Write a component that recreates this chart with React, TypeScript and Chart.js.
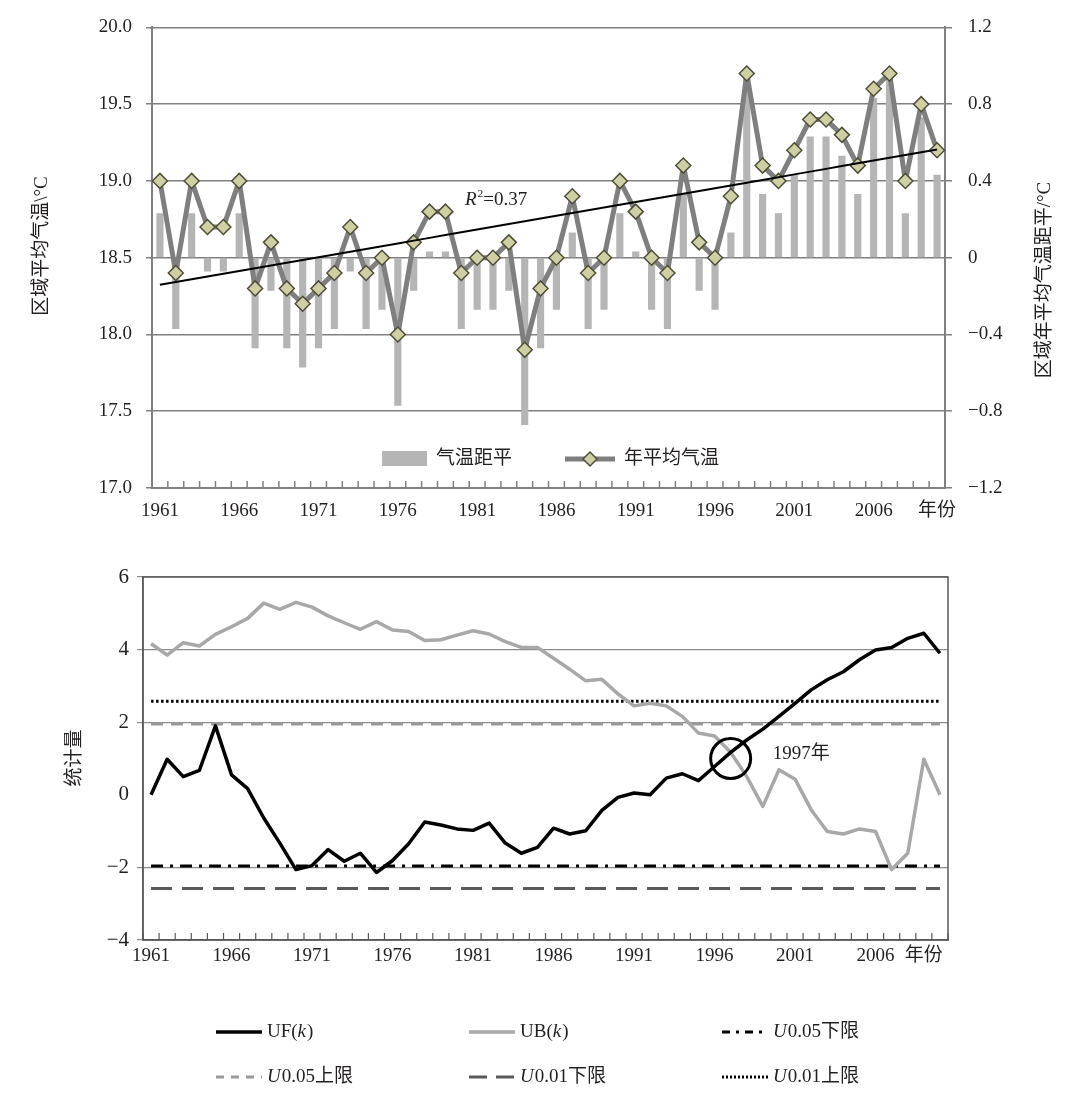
import { useEffect, useRef } from 'react';
import Chart from 'chart.js/auto';

// ---------- data ----------
const YEARS: number[] = [
  1961, 1962, 1963, 1964, 1965, 1966, 1967, 1968, 1969, 1970,
  1971, 1972, 1973, 1974, 1975, 1976, 1977, 1978, 1979, 1980,
  1981, 1982, 1983, 1984, 1985, 1986, 1987, 1988, 1989, 1990,
  1991, 1992, 1993, 1994, 1995, 1996, 1997, 1998, 1999, 2000,
  2001, 2002, 2003, 2004, 2005, 2006, 2007, 2008, 2009, 2010,
];

// 年平均气温 (°C)
const TEMPS: number[] = [
  19.0, 18.4, 19.0, 18.7, 18.7, 19.0, 18.3, 18.6, 18.3, 18.2,
  18.3, 18.4, 18.7, 18.4, 18.5, 18.0, 18.6, 18.8, 18.8, 18.4,
  18.5, 18.5, 18.6, 17.9, 18.3, 18.5, 18.9, 18.4, 18.5, 19.0,
  18.8, 18.5, 18.4, 19.1, 18.6, 18.5, 18.9, 19.7, 19.1, 19.0,
  19.2, 19.4, 19.4, 19.3, 19.1, 19.6, 19.7, 19.0, 19.5, 19.2,
];

// 气温距平 (°C)
const ANOMALY: number[] = [
  0.23, -0.37, 0.23, -0.07, -0.07, 0.23, -0.47, -0.17, -0.47, -0.57,
  -0.47, -0.37, -0.07, -0.37, -0.27, -0.77, -0.17, 0.03, 0.03, -0.37,
  -0.27, -0.27, -0.17, -0.87, -0.47, -0.27, 0.13, -0.37, -0.27, 0.23,
  0.03, -0.27, -0.37, 0.33, -0.17, -0.27, 0.13, 0.93, 0.33, 0.23,
  0.43, 0.63, 0.63, 0.53, 0.33, 0.83, 0.93, 0.23, 0.73, 0.43,
];

// Mann-Kendall statistics
const UF: number[] = [
  0, 0.98, 0.5, 0.67, 1.9, 0.55, 0.17, -0.64, -1.33, -2.06,
  -1.95, -1.51, -1.83, -1.61, -2.14, -1.81, -1.35, -0.75, -0.83, -0.94,
  -0.98, -0.78, -1.33, -1.61, -1.45, -0.92, -1.08, -0.99, -0.43, -0.07,
  0.05, 0, 0.46, 0.58, 0.39, 0.78, 1.17, 1.51, 1.81, 2.16,
  2.52, 2.89, 3.17, 3.39, 3.72, 3.99, 4.06, 4.31, 4.45, 3.9,
];

const UB: number[] = [
  4.16, 3.85, 4.19, 4.1, 4.42, 4.63, 4.86, 5.28, 5.11, 5.3,
  5.17, 4.93, 4.74, 4.56, 4.77, 4.54, 4.5, 4.25, 4.27, 4.4,
  4.52, 4.43, 4.22, 4.06, 4.06, 3.76, 3.46, 3.14, 3.18, 2.78,
  2.45, 2.52, 2.45, 2.16, 1.7, 1.62, 1.17, 0.5, -0.32, 0.69,
  0.43, -0.41, -1.01, -1.08, -0.94, -1.01, -2.06, -1.61, 0.98, 0,
];

const U005_UPPER = 1.96;
const U005_LOWER = -1.96;
const U001_UPPER = 2.58;
const U001_LOWER = -2.58;

const CROSS_YEAR = 1997;
const CROSS_VALUE = 1.0;
const R2_TEXT = '0.37';

const TOP_LEFT_TICKS = [17.0, 17.5, 18.0, 18.5, 19.0, 19.5, 20.0];
const TOP_RIGHT_TICKS = [-1.2, -0.8, -0.4, 0, 0.4, 0.8, 1.2];
const BOTTOM_TICKS = [-4, -2, 0, 2, 4, 6];

// ---------- styles ----------
const SERIF = '"Liberation Serif", "Noto Sans CJK SC", serif';
const TEXT = '#231f20';
const GRID = '#808080';

const fmtNum = (v: number): string => {
  if (v === 0) return '0';
  return (v < 0 ? '\u2212' : '') + Math.abs(v).toString();
};

// least-squares trend of the yearly temperature
const linearFit = (vals: number[]): number[] => {
  const n = vals.length;
  const mx = (n - 1) / 2;
  const my = vals.reduce((a, b) => a + b, 0) / n;
  let sxy = 0;
  let sxx = 0;
  vals.forEach((v, i) => {
    sxy += (i - mx) * (v - my);
    sxx += (i - mx) * (i - mx);
  });
  const b = sxy / sxx;
  return vals.map((_, i) => my + b * (i - mx));
};

type Part = { t: string; i?: boolean; sup?: boolean };

function drawRich(ctx: CanvasRenderingContext2D, parts: Part[], x: number, y: number, size: number) {
  let cx = x;
  ctx.textAlign = 'left';
  ctx.textBaseline = 'middle';
  ctx.fillStyle = TEXT;
  for (const p of parts) {
    const s = p.sup ? size * 0.6 : size;
    ctx.font = `${p.i ? 'italic ' : ''}${s}px ${SERIF}`;
    ctx.fillText(p.t, cx, p.sup ? y - size * 0.32 : y);
    cx += ctx.measureText(p.t).width + (p.i ? 1 : 0);
  }
}

function drawVertical(ctx: CanvasRenderingContext2D, text: string, x: number, y: number, size: number) {
  ctx.save();
  ctx.translate(x, y);
  ctx.rotate(-Math.PI / 2);
  ctx.textAlign = 'center';
  ctx.textBaseline = 'middle';
  ctx.fillStyle = TEXT;
  ctx.font = `${size}px ${SERIF}`;
  ctx.fillText(text, 0, 0);
  ctx.restore();
}

function drawInnerTicks(chart: any, color: string, width: number, len: number) {
  const { ctx, chartArea } = chart;
  const xs = chart.scales.x;
  const step = xs.getPixelForValue(1) - xs.getPixelForValue(0);
  ctx.save();
  ctx.strokeStyle = color;
  ctx.lineWidth = width;
  for (let i = 0; i <= YEARS.length; i++) {
    const x = xs.getPixelForValue(0) - step / 2 + i * step;
    ctx.beginPath();
    ctx.moveTo(x, chartArea.bottom);
    ctx.lineTo(x, chartArea.bottom - len);
    ctx.stroke();
  }
  ctx.restore();
}

// ---------- top chart ----------
function TemperatureChart() {
  const canvasRef = useRef<HTMLCanvasElement | null>(null);

  useEffect(() => {
    if (!canvasRef.current) return;
    const trend = linearFit(TEMPS);

    const decor = {
      id: 'topDecor',
      afterDraw(chart: any) {
        const { ctx } = chart;
        drawInnerTicks(chart, GRID, 1.5, 7);
        drawVertical(ctx, '区域平均气温\\°C', 42, 246, 19);
        drawVertical(ctx, '区域年平均气温距平/°C', 1045, 280, 19);
        // R²
        drawRich(ctx, [{ t: 'R', i: true }, { t: '2', sup: true }, { t: '=' + R2_TEXT }], 465, 200, 19);
        // legend
        ctx.save();
        ctx.fillStyle = '#b5b5b5';
        ctx.fillRect(382, 451, 45, 15);
        ctx.fillStyle = TEXT;
        ctx.font = `19px ${SERIF}`;
        ctx.textBaseline = 'middle';
        ctx.fillText('气温距平', 436, 459);
        ctx.strokeStyle = '#7f7f7f';
        ctx.lineWidth = 5;
        ctx.beginPath();
        ctx.moveTo(565, 459);
        ctx.lineTo(615, 459);
        ctx.stroke();
        ctx.beginPath();
        ctx.moveTo(590 - 7, 459);
        ctx.lineTo(590, 452);
        ctx.lineTo(590 + 7, 459);
        ctx.lineTo(590, 466);
        ctx.closePath();
        ctx.fillStyle = '#cfcfa6';
        ctx.fill();
        ctx.strokeStyle = '#4d4d38';
        ctx.lineWidth = 1.5;
        ctx.stroke();
        ctx.fillStyle = TEXT;
        ctx.fillText('年平均气温', 624, 459);
        ctx.restore();
      },
    };

    const chart = new Chart(canvasRef.current, {
      type: 'bar',
      data: {
        labels: YEARS.map(String),
        datasets: [
          {
            type: 'line',
            label: 'trend',
            data: trend,
            yAxisID: 'y',
            borderColor: '#000',
            borderWidth: 2,
            pointRadius: 0,
            order: 0,
          },
          {
            type: 'line',
            label: '年平均气温',
            data: TEMPS,
            yAxisID: 'y',
            borderColor: '#7f7f7f',
            borderWidth: 5,
            borderJoinStyle: 'round',
            pointStyle: 'rectRot',
            pointRadius: 7.5,
            pointBackgroundColor: '#cfcfa6',
            pointBorderColor: '#4d4d38',
            pointBorderWidth: 1.5,
            tension: 0,
            order: 1,
          },
          {
            type: 'bar',
            label: '气温距平',
            data: ANOMALY,
            yAxisID: 'y1',
            backgroundColor: '#b5b5b5',
            borderWidth: 0,
            barThickness: 6.5,
            order: 2,
          },
        ] as any,
      },
      options: {
        responsive: true,
        maintainAspectRatio: false,
        animation: false,
        layout: { padding: { top: 22, left: 0, right: 0, bottom: 0 } },
        plugins: { legend: { display: false }, tooltip: { enabled: false } },
        scales: {
          x: {
            type: 'category',
            offset: true,
            grid: { display: true, drawOnChartArea: false, drawTicks: false, offset: true },
            border: { display: true, color: GRID, width: 2 },
            ticks: {
              autoSkip: false,
              maxRotation: 0,
              padding: 12,
              color: TEXT,
              font: { family: SERIF, size: 19 },
              callback: (_v: any, idx: number) =>
                idx === YEARS.length - 1 ? '年份' : idx % 5 === 0 && idx <= 45 ? String(YEARS[idx]) : '',
            },
            afterFit: (s: any) => {
              s.height = 57;
            },
          },
          y: {
            position: 'left',
            min: 17,
            max: 20,
            afterBuildTicks: (s: any) => {
              s.ticks = TOP_LEFT_TICKS.map((v) => ({ value: v }));
            },
            grid: { color: GRID, lineWidth: 1.5, tickLength: 6 },
            border: { display: true, color: GRID, width: 2 },
            ticks: {
              padding: 14,
              color: TEXT,
              font: { family: SERIF, size: 19 },
              callback: (v: any) => Number(v).toFixed(1),
            },
            afterFit: (s: any) => {
              s.width = 152;
            },
          },
          y1: {
            position: 'right',
            min: -1.2,
            max: 1.2,
            afterBuildTicks: (s: any) => {
              s.ticks = TOP_RIGHT_TICKS.map((v) => ({ value: v }));
            },
            grid: { drawOnChartArea: false, color: GRID, lineWidth: 1.5, tickLength: 7 },
            border: { display: true, color: GRID, width: 2 },
            ticks: {
              padding: 16,
              color: TEXT,
              font: { family: SERIF, size: 19 },
              callback: (v: any) => fmtNum(Number(v)),
            },
            afterFit: (s: any) => {
              s.width = 124;
            },
          },
        },
      } as any,
      plugins: [decor],
    });

    return () => chart.destroy();
  }, []);

  return (
    <div style={{ position: 'absolute', left: 0, top: 0, width: 1069, height: 545 }}>
      <canvas ref={canvasRef} />
    </div>
  );
}

// ---------- bottom chart ----------
type LegendItem = {
  x: number;
  y: number;
  color: string;
  width: number;
  dash: number[];
  parts: Part[];
};

const LEGEND: LegendItem[] = [
  { x: 216, y: 487, color: '#000', width: 3.5, dash: [], parts: [{ t: 'UF(' }, { t: 'k', i: true }, { t: ')' }] },
  { x: 469, y: 487, color: '#a8a8a8', width: 3.5, dash: [], parts: [{ t: 'UB(' }, { t: 'k', i: true }, { t: ')' }] },
  { x: 722, y: 487, color: '#000', width: 3, dash: [8, 6, 3, 6], parts: [{ t: 'U', i: true }, { t: '0.05下限' }] },
  { x: 216, y: 532, color: '#999', width: 3, dash: [8, 7], parts: [{ t: 'U', i: true }, { t: '0.05上限' }] },
  { x: 469, y: 532, color: '#595959', width: 3, dash: [18, 9], parts: [{ t: 'U', i: true }, { t: '0.01下限' }] },
  { x: 722, y: 532, color: '#000', width: 3, dash: [2, 2], parts: [{ t: 'U', i: true }, { t: '0.01上限' }] },
];

function MannKendallChart() {
  const canvasRef = useRef<HTMLCanvasElement | null>(null);

  useEffect(() => {
    if (!canvasRef.current) return;

    const decor = {
      id: 'bottomDecor',
      afterDraw(chart: any) {
        const { ctx, chartArea, scales } = chart;
        drawInnerTicks(chart, '#595959', 1.2, 7);
        // frame
        ctx.save();
        ctx.strokeStyle = '#595959';
        ctx.lineWidth = 1.5;
        ctx.strokeRect(chartArea.left, chartArea.top, chartArea.right - chartArea.left, chartArea.bottom - chartArea.top);
        // crossing circle
        const cx = scales.x.getPixelForValue(YEARS.indexOf(CROSS_YEAR));
        const cy = scales.y.getPixelForValue(CROSS_VALUE);
        ctx.strokeStyle = '#000';
        ctx.lineWidth = 3;
        ctx.beginPath();
        ctx.arc(cx, cy, 20, 0, Math.PI * 2);
        ctx.stroke();
        ctx.restore();
        drawRich(ctx, [{ t: CROSS_YEAR + '年' }], cx + 42, cy - 4, 19);
        drawVertical(ctx, '统计量', 75, 213, 19);
        // legend
        for (const it of LEGEND) {
          ctx.save();
          ctx.strokeStyle = it.color;
          ctx.lineWidth = it.width;
          ctx.setLineDash(it.dash);
          ctx.beginPath();
          ctx.moveTo(it.x, it.y);
          ctx.lineTo(it.x + 46, it.y);
          ctx.stroke();
          ctx.restore();
          drawRich(ctx, it.parts, it.x + 51, it.y, 19);
        }
      },
    };

    const refLine = (label: string, value: number, color: string, dash: number[], width: number, order: number) => ({
      type: 'line',
      label,
      data: YEARS.map(() => value),
      borderColor: color,
      borderDash: dash,
      borderWidth: width,
      pointRadius: 0,
      order,
    });

    const chart = new Chart(canvasRef.current, {
      type: 'line',
      data: {
        labels: YEARS.map(String),
        datasets: [
          { label: 'UF(k)', data: UF, borderColor: '#000', borderWidth: 3.5, borderJoinStyle: 'round', pointRadius: 0, tension: 0, order: 0 },
          { label: 'UB(k)', data: UB, borderColor: '#a8a8a8', borderWidth: 3.5, borderJoinStyle: 'round', pointRadius: 0, tension: 0, order: 1 },
          refLine('U0.05下限', U005_LOWER, '#000', [12, 7, 3, 7], 3, 2),
          refLine('U0.05上限', U005_UPPER, '#999', [12, 8], 3.5, 3),
          refLine('U0.01下限', U001_LOWER, '#595959', [21, 10], 3, 4),
          refLine('U0.01上限', U001_UPPER, '#000', [2.5, 2.5], 3, 5),
        ] as any,
      },
      options: {
        responsive: true,
        maintainAspectRatio: false,
        animation: false,
        layout: { padding: { top: 32, left: 0, right: 121, bottom: 117 } },
        plugins: { legend: { display: false }, tooltip: { enabled: false } },
        scales: {
          x: {
            type: 'category',
            offset: true,
            grid: { display: true, drawOnChartArea: false, drawTicks: false, offset: true },
            border: { display: true, color: '#595959', width: 1.5 },
            ticks: {
              autoSkip: false,
              maxRotation: 0,
              padding: 5,
              color: TEXT,
              font: { family: SERIF, size: 19 },
              callback: (_v: any, idx: number) =>
                idx === 48 ? '年份' : idx % 5 === 0 && idx <= 45 ? String(YEARS[idx]) : '',
            },
            afterFit: (s: any) => {
              s.height = 40;
            },
          },
          y: {
            min: -4,
            max: 6,
            afterBuildTicks: (s: any) => {
              s.ticks = BOTTOM_TICKS.map((v) => ({ value: v }));
            },
            grid: {
              color: (c: any) => (c.tick && c.tick.value === 0 ? 'rgba(0,0,0,0)' : '#8c8c8c'),
              lineWidth: 1.2,
              tickLength: 6,
            },
            border: { display: true, color: '#595959', width: 1.5 },
            ticks: {
              padding: 8,
              color: TEXT,
              font: { family: SERIF, size: 21 },
              callback: (v: any) => fmtNum(Number(v)),
            },
            afterFit: (s: any) => {
              s.width = 143;
            },
          },
        },
      } as any,
      plugins: [decor],
    });

    return () => chart.destroy();
  }, []);

  return (
    <div style={{ position: 'absolute', left: 0, top: 545, width: 1069, height: 552 }}>
      <canvas ref={canvasRef} />
    </div>
  );
}

export default function App() {
  return (
    <div style={{ position: 'absolute', left: 0, top: 0, width: 1069, height: 1097, background: '#fff' }}>
      <TemperatureChart />
      <MannKendallChart />
    </div>
  );
}
